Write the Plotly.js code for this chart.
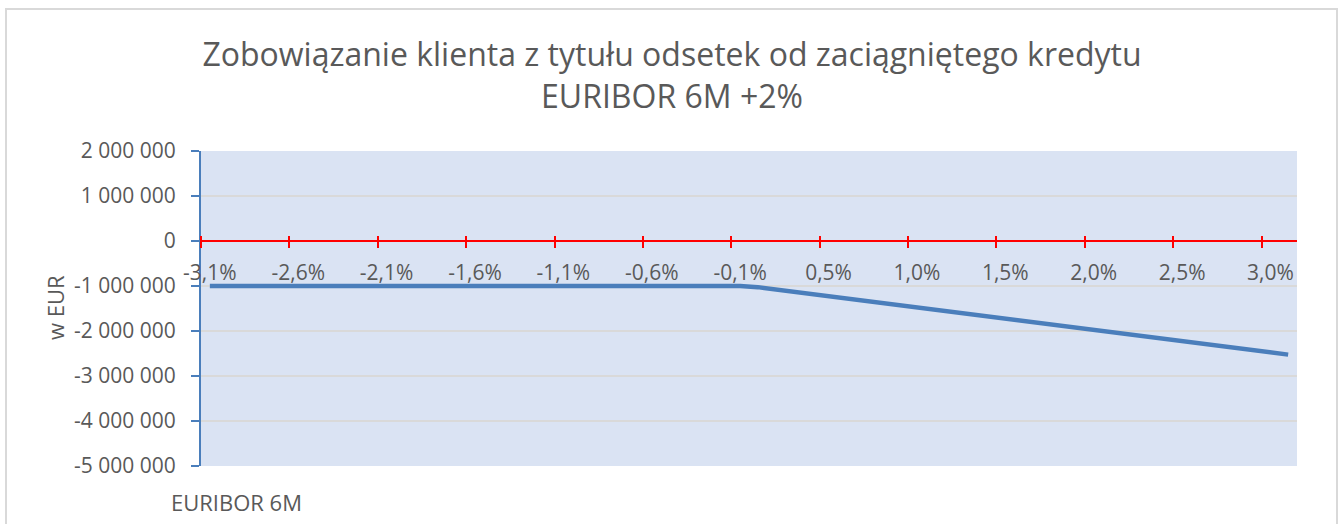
<!DOCTYPE html>
<html>
<head>
<meta charset="utf-8">
<script src="https://cdn.plot.ly/plotly-3.0.1.min.js"></script>
<style>
  html, body { margin: 0; padding: 0; background: #fff; }
  #wrap { position: relative; width: 1344px; height: 524px; overflow: hidden; }
  #chart { width: 1344px; height: 524px; }
  #frame { position: absolute; left: 5px; top: 8px; width: 1333px; height: 540px;
           border: 2px solid #d9d9d9; pointer-events: none; box-sizing: border-box; }
</style>
</head>
<body>
<div id="wrap">
  <div id="chart"></div>
  <div id="frame"></div>
</div>
<script>
// EURIBOR 6M rate (%) for each category
const rates = [
  -3.05, -2.95, -2.85, -2.75, -2.65, -2.55, -2.45, -2.35, -2.25, -2.15,
  -2.05, -1.95, -1.85, -1.75, -1.65, -1.55, -1.45, -1.35, -1.25, -1.15,
  -1.05, -0.95, -0.85, -0.75, -0.65, -0.55, -0.45, -0.35, -0.25, -0.15,
  -0.05, 0.05, 0.15, 0.25, 0.35, 0.45, 0.55, 0.65, 0.75, 0.85,
  0.95, 1.05, 1.15, 1.25, 1.35, 1.45, 1.55, 1.65, 1.75, 1.85,
  1.95, 2.05, 2.15, 2.25, 2.35, 2.45, 2.55, 2.65, 2.75, 2.85,
  2.95, 3.05
];
// Client interest liability (EUR)
const liability = [
  -1000000, -1000000, -1000000, -1000000, -1000000, -1000000, -1000000, -1000000, -1000000, -1000000,
  -1000000, -1000000, -1000000, -1000000, -1000000, -1000000, -1000000, -1000000, -1000000, -1000000,
  -1000000, -1000000, -1000000, -1000000, -1000000, -1000000, -1000000, -1000000, -1000000, -1000000,
  -1000000, -1025000, -1075000, -1125000, -1175000, -1225000, -1275000, -1325000, -1375000, -1425000,
  -1475000, -1525000, -1575000, -1625000, -1675000, -1725000, -1775000, -1825000, -1875000, -1925000,
  -1975000, -2025000, -2075000, -2125000, -2175000, -2225000, -2275000, -2325000, -2375000, -2425000,
  -2475000, -2525000
];
// Category-axis labels (shown every 5th category)
const xLabelVals = [-3.05, -2.55, -2.05, -1.55, -1.05, -0.55, -0.05, 0.45, 0.95, 1.45, 1.95, 2.45, 2.95];
const xLabelText = ["-3,1%", "-2,6%", "-2,1%", "-1,6%", "-1,1%", "-0,6%", "-0,1%", "0,5%", "1,0%", "1,5%", "2,0%", "2,5%", "3,0%"];
// Tick marks sit between categories
const xTickMarks = [-3.1, -2.6, -2.1, -1.6, -1.1, -0.6, -0.1, 0.4, 0.9, 1.4, 1.9, 2.4, 2.9];
const xRange = [-3.1, 3.1];
// Value axis
const yTickVals = [2000000, 1000000, 0, -1000000, -2000000, -3000000, -4000000, -5000000];
const yTickText = ["2 000 000", "1 000 000", "0", "-1 000 000", "-2 000 000", "-3 000 000", "-4 000 000", "-5 000 000"];
const yRange = [-5000000, 2000000];

const titleText = "Zobowiązanie klienta z tytułu odsetek od zaciągniętego kredytu<br>EURIBOR 6M +2%";
const yTitle = "w EUR";
const xTitle = "EURIBOR 6M";

const FONT = "Open Sans, DejaVu Sans, sans-serif";
const GREY = "#595959";

const H = 524, MT = 151, MB = 58;
const plotH = H - MT - MB;
const zeroPos = (0 - yRange[0]) / (yRange[1] - yRange[0]);

const traces = [
  {
    x: rates, y: liability, type: "scatter", mode: "lines",
    line: { color: "#4a7ebb", width: 4.5, shape: "linear" },
    hoverinfo: "x+y", showlegend: false
  },
  { x: [], y: [], xaxis: "x2", yaxis: "y", type: "scatter", mode: "lines", showlegend: false, hoverinfo: "skip" }
];

const layout = {
  width: 1344, height: 524,
  margin: { l: 201, r: 47, t: MT, b: MB, pad: 0 },
  paper_bgcolor: "rgba(0,0,0,0)",
  plot_bgcolor: "#dae3f3",
  font: { family: FONT, color: GREY, size: 21 },
  title: {
    text: titleText,
    font: { family: FONT, size: 32, color: GREY },
    x: 0.5, xref: "container", xanchor: "center",
    y: 1 - 66 / H, yref: "container", yanchor: "top"
  },
  showlegend: false,
  xaxis: {
    range: xRange, anchor: "free", position: zeroPos,
    showgrid: false, zeroline: false,
    showline: true, linecolor: "#ff0000", linewidth: 2,
    tickmode: "array", tickvals: xLabelVals, ticktext: xLabelText,
    ticks: "outside", ticklen: 13, tickcolor: "rgba(0,0,0,0)",
    tickfont: { family: FONT, size: 21, color: GREY },
    fixedrange: true
  },
  xaxis2: {
    range: xRange, overlaying: "x", anchor: "free", position: zeroPos + 6 / plotH,
    showgrid: false, zeroline: false, showline: false,
    tickmode: "array", tickvals: xTickMarks, showticklabels: false,
    ticks: "outside", ticklen: 12, tickwidth: 2, tickcolor: "#ff0000",
    fixedrange: true
  },
  yaxis: {
    range: yRange, tickmode: "array", tickvals: yTickVals, ticktext: yTickText,
    showgrid: true, gridcolor: "#d9d9d9", gridwidth: 2,
    zeroline: false,
    showline: true, linecolor: "#4a7ebb", linewidth: 2,
    ticks: "outside", ticklen: 8, tickwidth: 2, tickcolor: "#4a7ebb",
    ticklabelstandoff: 11,
    tickfont: { family: FONT, size: 21, color: GREY },
    fixedrange: true
  },
  annotations: [
    {
      text: yTitle, xref: "paper", yref: "paper", x: 0, y: 0.5,
      xshift: -146, yshift: plotH / 2 - (308 - MT),
      xanchor: "center", yanchor: "middle", textangle: -90, showarrow: false,
      font: { family: FONT, size: 22, color: GREY }
    },
    {
      text: xTitle, xref: "paper", yref: "paper", x: 0, y: 0,
      xshift: -32, yshift: -36, xanchor: "left", yanchor: "middle", showarrow: false,
      font: { family: FONT, size: 22, color: GREY }
    }
  ]
};

Plotly.newPlot("chart", traces, layout, { displayModeBar: false, staticPlot: true });
</script>
</body>
</html>
